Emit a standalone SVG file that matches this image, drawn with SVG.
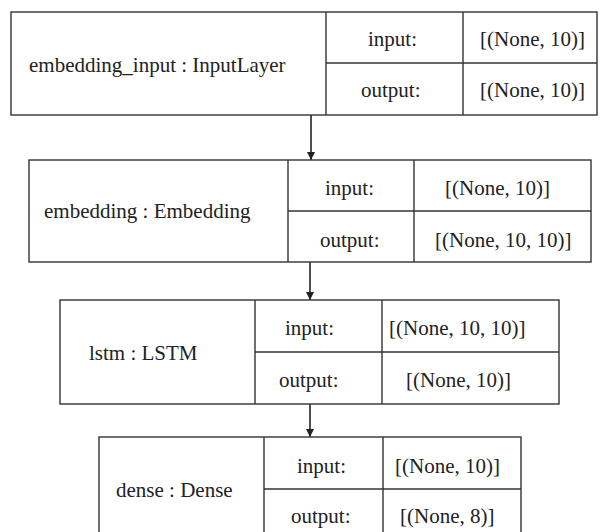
<svg xmlns="http://www.w3.org/2000/svg" width="600" height="532" viewBox="0 0 600 532">
<style>
.box{fill:#fff;stroke:#333;stroke-width:1.4}
.ln{stroke:#333;stroke-width:1.4;fill:none}
.edge{stroke:#222;stroke-width:1.6;fill:none;marker-end:url(#ah)}
text{font-family:"Liberation Serif","Times New Roman",serif;font-size:21px;fill:#222}
</style>
<defs>
<marker id="ah" viewBox="0 0 8 10" refX="8" refY="5" markerWidth="8" markerHeight="10" markerUnits="userSpaceOnUse" orient="auto">
<path d="M0,1 L8,5 L0,9 Z" fill="#222"/>
</marker>
</defs>
<rect width="600" height="532" fill="#fff"/>
<g id="connectors">
<line class="edge" x1="311" y1="115" x2="311" y2="160"/>
<line class="edge" x1="310" y1="262" x2="310" y2="300"/>
<line class="edge" x1="310" y1="404" x2="310" y2="437"/>
</g>
<g id="embedding_input">
<rect class="box" x="11" y="12" width="586" height="103"/>
<line class="ln" x1="326" y1="12" x2="326" y2="115"/>
<line class="ln" x1="463" y1="12" x2="463" y2="115"/>
<line class="ln" x1="326" y1="63" x2="597" y2="63"/>
<text x="29" y="72">embedding_input : InputLayer</text>
<text x="368" y="46">input:</text>
<text x="361" y="97">output:</text>
<text x="480" y="46">[(None, 10)]</text>
<text x="480" y="97">[(None, 10)]</text>
</g>
<g id="embedding">
<rect class="box" x="29" y="160" width="562" height="102"/>
<line class="ln" x1="288" y1="160" x2="288" y2="262"/>
<line class="ln" x1="414" y1="160" x2="414" y2="262"/>
<line class="ln" x1="288" y1="211" x2="591" y2="211"/>
<text x="44" y="218">embedding : Embedding</text>
<text x="325" y="195">input:</text>
<text x="320" y="247">output:</text>
<text x="445" y="195">[(None, 10)]</text>
<text x="435" y="247">[(None, 10, 10)]</text>
</g>
<g id="lstm">
<rect class="box" x="60" y="300" width="499" height="104"/>
<line class="ln" x1="255" y1="300" x2="255" y2="404"/>
<line class="ln" x1="382" y1="300" x2="382" y2="404"/>
<line class="ln" x1="255" y1="352" x2="559" y2="352"/>
<text x="89" y="360">lstm : LSTM</text>
<text x="285" y="335">input:</text>
<text x="279" y="387">output:</text>
<text x="389" y="335">[(None, 10, 10)]</text>
<text x="406" y="387">[(None, 10)]</text>
</g>
<g id="dense">
<rect class="box" x="99" y="437" width="422" height="104"/>
<line class="ln" x1="264" y1="437" x2="264" y2="541"/>
<line class="ln" x1="383" y1="437" x2="383" y2="541"/>
<line class="ln" x1="264" y1="489" x2="521" y2="489"/>
<text x="116" y="497">dense : Dense</text>
<text x="297" y="473">input:</text>
<text x="291" y="523">output:</text>
<text x="395" y="473">[(None, 10)]</text>
<text x="400" y="523">[(None, 8)]</text>
</g>
</svg>
